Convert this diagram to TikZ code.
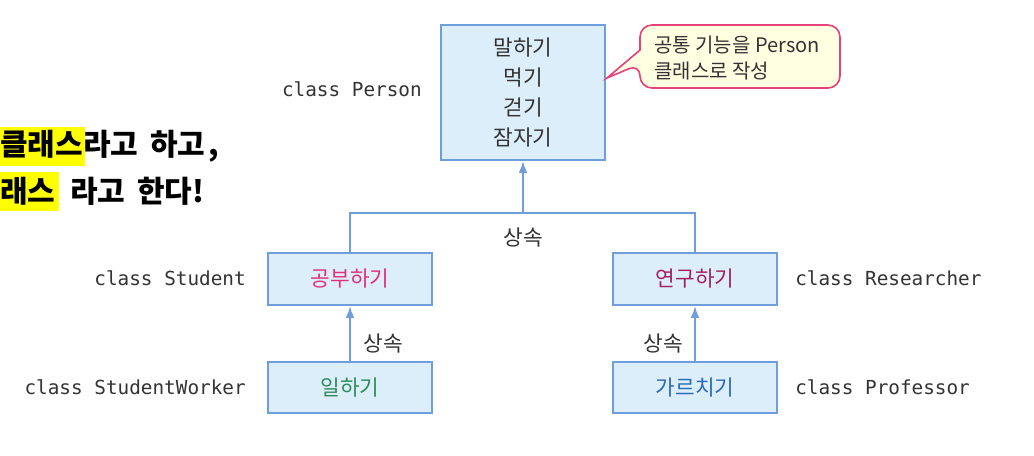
\documentclass[tikz,border=0pt]{standalone}
\usepackage{fontspec}
\setmainfont{Noto Sans CJK KR}
\newfontfamily\monofont{DejaVu Sans Mono}
\usetikzlibrary{arrows.meta}
\definecolor{boxfill}{HTML}{DDEEFB}
\definecolor{boxline}{HTML}{6E9FDC}
\definecolor{txt}{HTML}{333333}
\definecolor{calline}{HTML}{E8407A}
\definecolor{calfill}{HTML}{FFFFE2}
\definecolor{cpink}{HTML}{E0307A}
\definecolor{cplum}{HTML}{A02060}
\definecolor{cgreen}{HTML}{2E8B57}
\definecolor{cblue}{HTML}{2A6AB8}
\definecolor{hl}{HTML}{FFFF00}
\tikzset{
  box/.style={draw=boxline, fill=boxfill, line width=1.4pt, minimum width=123pt, inner sep=0pt,
    font=\fontsize{16}{22.5}\selectfont, text=txt, align=center},
  conn/.style={draw=boxline, line width=1.3pt},
  arr/.style={conn, -{Latex[length=9pt,width=6.5pt]}},
  lbl/.style={font=\fontsize{16}{18}\selectfont, text=txt, inner sep=0pt},
  cls/.style={font=\monofont\fontsize{14.5}{17}\selectfont, text=txt, inner sep=0pt},
  big/.style={anchor=west, inner sep=0pt, font=\bfseries\fontsize{22.5}{26}\selectfont},
}
\begin{document}
\begin{tikzpicture}[x=0.75pt,y=-0.75pt]
\fill[white] (0,0) rectangle (1034,456);
\useasboundingbox (0,0) rectangle (1034,456);
% left text with highlights
\fill[hl] (0,127) rectangle (85,166);
\fill[hl] (0,172) rectangle (59,211);
\node[big] (t1) at (0,146) {클래스라고\hspace{9pt}하고\hspace{2pt},};
\node[big] (t2) at (0,191) {래스\hspace{11pt}라고\hspace{9pt}한다!};
% boxes
\node[box, minimum height=101.25pt] (person) at (523,92.5) {말하기\\먹기\\걷기\\잠자기};
\node[box, minimum height=39pt, text=cpink] (student) at (350,279) {공부하기};
\node[box, minimum height=39pt, text=cplum] (researcher) at (695,279) {연구하기};
\node[box, minimum height=38.5pt, text=cgreen] (worker) at (350,387.5) {일하기};
\node[box, minimum height=38.5pt, text=cblue] (professor) at (695,387.5) {가르치기};
% callout
\draw[draw=calline, fill=calfill, line width=1.2pt, rounded corners=9pt]
  (640,50) -- (640,25) -- (840,25) -- (840,88) -- (640,88) -- (640,64) [sharp corners] -- (607,78) -- cycle;
\node[anchor=west, align=left, inner sep=0pt, text=txt, font=\fontsize{15}{19.5}\selectfont] (note) at (654,58) {공통 기능을 Person\\클래스로 작성};
% connectors
\coordinate (join) at (523,213);
\draw[conn] (student.north) |- (join) -| (researcher.north);
\draw[arr] (join) -- (person.south);
\draw[arr] (worker.north) -- (student.south);
\draw[arr] (professor.north) -- (researcher.south);
% labels
\node[lbl] (l1) at (523,238) {상속};
\node[lbl] (l2) at (383,344) {상속};
\node[lbl] (l3) at (663,344) {상속};
% class names
\node[cls, anchor=east] (cp) at (422,89) {class Person};
\node[cls, anchor=east] (cs) at (246,278) {class Student};
\node[cls, anchor=east] (cw) at (246,387) {class StudentWorker};
\node[cls, anchor=west] (cr) at (795,278) {class Researcher};
\node[cls, anchor=west] (cf) at (795,387) {class Professor};
\end{tikzpicture}
\end{document}
